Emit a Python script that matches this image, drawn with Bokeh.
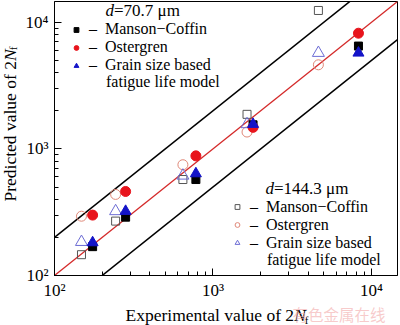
import numpy as np
from bokeh.plotting import figure
from bokeh.models import Legend, LegendItem, Label, Range1d
from bokeh.layouts import row, column
from bokeh.embed import file_html
from bokeh.resources import INLINE

# ---- data ----
exp_70 = [174, 281, 780, 1790, 8280]
mc_70 = [169, 289, 573, 1550, 6490]
ost_70 = [300, 461, 881, 1480, 8200]
gs_70 = [182, 322, 638, 1567, 5730]

exp_144 = [148, 243, 646, 1640, 4626]
mc_144 = [146, 269, 573, 1875, 12400]
ost_144 = [294, 437, 750, 1359, 4616]
gs_144 = [184, 322, 615, 1567, 5730]

ref_x = [100, 14600]
ref_factors = [0.5, 1.0, 2.0]
x_ticks = [100, 1000, 10000]
tick_text = ["10²", "10³", "10⁴"]
model_names = ["Manson−Coffin", "Ostergren", "Grain size based"]

SERIF = "Liberation Serif"
YLAB_W = 20
MAIN_H = 302
FL, FB = 54, 278   # frame left / bottom in page pixels

p = figure(width=400 - YLAB_W, height=MAIN_H, x_axis_type="log", y_axis_type="log",
           x_range=Range1d(100, 14600), y_range=Range1d(100, 14600), title=None,
           output_backend="svg", toolbar_location=None,
           min_border_left=FL - YLAB_W, min_border_right=3, min_border_top=1,
           min_border_bottom=MAIN_H - FB)
p.xgrid.visible = False
p.ygrid.visible = False
p.outline_line_color = "black"
p.outline_line_width = 1
p.background_fill_color = "white"
p.border_fill_color = "white"

for ax in (p.xaxis[0], p.yaxis[0]):
    ax.major_tick_in = 7
    ax.major_tick_out = 0
    ax.minor_tick_in = 4
    ax.minor_tick_out = 0
    ax.axis_line_color = "black"
    ax.major_tick_line_color = "black"
    ax.minor_tick_line_color = "black"
    ax.major_label_text_font = SERIF
    ax.major_label_text_font_size = "17px"
    ax.major_label_text_color = "black"
    ax.major_label_overrides = {float(v): t for v, t in zip(x_ticks, tick_text)}
p.xaxis[0].major_label_standoff = 5
p.yaxis[0].major_label_standoff = 6

# reference lines
for f in ref_factors:
    ys = [v * f for v in ref_x]
    if f == 1.0:
        p.line(ref_x, ys, line_color="#d42a2a", line_width=1.3)
    else:
        p.line(ref_x, ys, line_color="black", line_width=1.5)

# d = 144.3 um (open markers)
r_mc144 = p.scatter(exp_144, mc_144, marker="square", size=8, fill_color=None,
                    line_color="#555555", line_width=1)
r_ost144 = p.scatter(exp_144, ost_144, marker="circle", size=10, fill_color=None,
                     line_color="#e08878", line_width=1)
r_gs144 = p.scatter(exp_144, gs_144, marker="triangle", size=12, fill_color=None,
                    line_color="#6c6cd4", line_width=1)

# d = 70.7 um (filled markers)
r_mc70 = p.scatter(exp_70, mc_70, marker="square", size=8, fill_color="black",
                   line_color="black")
r_ost70 = p.scatter(exp_70, ost_70, marker="circle", size=10, fill_color="#e8141c",
                    line_color="#e8141c")
r_gs70 = p.scatter(exp_70, gs_70, marker="triangle", size=11, fill_color="#1414c8",
                   line_color="#1414c8")

SP = "\u2002"
LEG_FS = 16
PITCH = 18.5


def add_legend(renderers, glyph_cx, mid_cy):
    items = [LegendItem(label="–" + SP + n, renderers=[r])
             for r, n in zip(renderers, model_names)]
    bottom = mid_cy + 1.5 * PITCH
    lg = Legend(items=items, location=(glyph_cx - 6 - FL, FB - bottom),
                glyph_width=12, glyph_height=17, label_height=17, spacing=0,
                label_standoff=7, padding=0, margin=0,
                border_line_color=None, background_fill_alpha=0,
                label_text_font=SERIF, label_text_font_size=f"{LEG_FS}px",
                label_text_color="black")
    p.add_layout(lg)


def lab(fig, x, y, text, size="17px", style="normal", angle=0.0, font=SERIF,
        color="black", alpha=1.0):
    fig.add_layout(Label(x=x, y=y, x_units="screen", y_units="screen", text=text,
                         text_font=font, text_font_size=size, text_font_style=style,
                         angle=angle, text_baseline="middle", text_align="left",
                         text_color=color, text_alpha=alpha))


# upper legend (d = 70.7 um)
add_legend([r_mc70, r_ost70, r_gs70], 76, 49.5)
lab(p, 105.5 - FL, FB - 83.6, "fatigue life model", size=f"{LEG_FS}px")
lab(p, 105 - FL, FB - 13.3, "d", style="italic")
lab(p, 113.5 - FL, FB - 13.3, "=70.7 μm")

# lower legend (d = 144.3 um)
add_legend([r_mc144, r_ost144, r_gs144], 237, 227)
lab(p, 266.5 - FL, FB - 261.6, "fatigue life model", size=f"{LEG_FS}px")
lab(p, 265 - FL, FB - 191.3, "d", style="italic")
lab(p, 273.5 - FL, FB - 191.3, "=144.3 μm")


def blank_fig(w, h):
    f = figure(width=w, height=h, x_range=Range1d(0, 1), y_range=Range1d(0, 1),
               title=None, output_backend="svg", toolbar_location=None,
               x_axis_location=None, y_axis_location=None,
               min_border=0, min_border_left=0, min_border_right=0,
               min_border_top=0, min_border_bottom=0)
    f.xgrid.visible = False
    f.ygrid.visible = False
    f.outline_line_color = None
    f.background_fill_color = "white"
    f.border_fill_color = "white"
    return f


FS = 17.5

# y axis label (rotated) in a narrow strip on the left
ylab = blank_fig(YLAB_W, MAIN_H)
ystart = 228
mx = 9.5
lab(ylab, mx, MAIN_H - ystart, "Predicted value of 2", size=f"{FS}px", angle=np.pi / 2)
ny = ystart - 8.026 * FS
lab(ylab, mx, MAIN_H - ny, "N", size=f"{FS}px", style="italic", angle=np.pi / 2)
lab(ylab, 12.8, MAIN_H - (ny - 0.667 * FS + 1), "f", size="11px", angle=np.pi / 2)

# x axis label strip below
XLAB_H = 325 - MAIN_H
xlab = blank_fig(400, XLAB_H)
lab(xlab, 125, 325 - 314, "Experimental value of 2", size=f"{FS}px")
nx = 125 + 9.637 * FS
lab(xlab, nx, 325 - 314, "N", size=f"{FS}px", style="italic")
lab(xlab, nx + 0.667 * FS - 1, 325 - 319, "f", size="11px")
lab(xlab, 292, 325 - 313.6, "有色金属在线", size="15.5px", font="Noto Sans CJK SC",
    color="#f2a8a8", alpha=0.6)

layout = column(row(ylab, p, spacing=0), xlab, spacing=0)
open("out.html", "w").write(file_html(layout, INLINE))
